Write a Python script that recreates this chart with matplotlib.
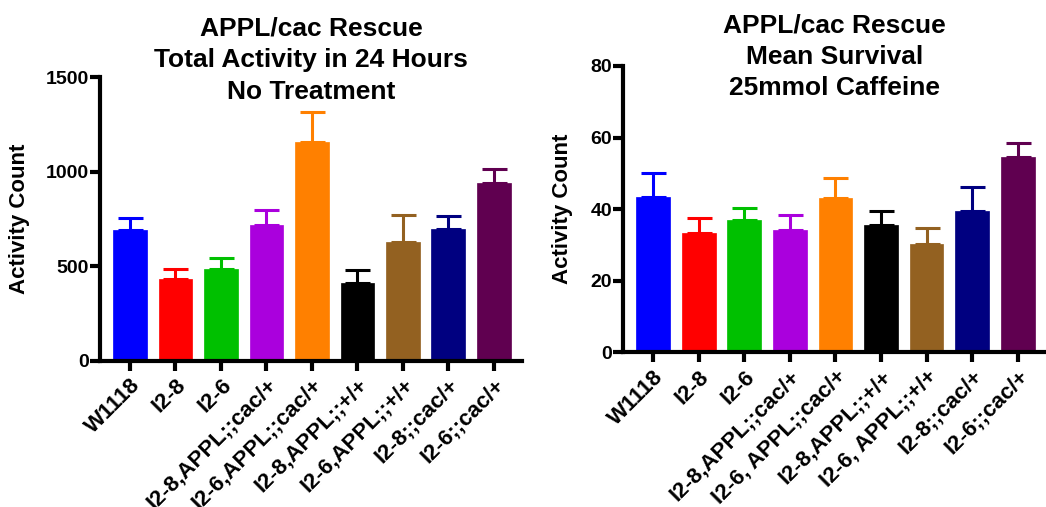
import matplotlib.pyplot as plt

plt.rcParams['font.family'] = ['Liberation Sans', 'DejaVu Sans']
plt.rcParams['font.weight'] = 'bold'

labels_left = ['W1118', 'I2-8', 'I2-6', 'I2-8,APPL;;cac/+', 'I2-6,APPL;;cac/+',
               'I2-8,APPL;;+/+', 'I2-6,APPL;;+/+', 'I2-8;;cac/+', 'I2-6;;cac/+']
labels_right = ['W1118', 'I2-8', 'I2-6', 'I2-8,APPL;;cac/+', 'I2-6, APPL;;cac/+',
                'I2-8,APPL;;+/+', 'I2-6, APPL;;+/+', 'I2-8;;cac/+', 'I2-6;;cac/+']
colors = ['#0000FF', '#FF0000', '#00C000', '#AA00DD', '#FF8000',
          '#000000', '#936121', '#000080', '#600050']

activity = [692, 435, 486, 720, 1158, 414, 630, 696, 940]
activity_err = [62, 51, 60, 76, 155, 67, 141, 71, 73]

survival = [43.5, 33.2, 37.1, 34.3, 43.0, 35.7, 30.3, 39.6, 54.7]
survival_err = [6.5, 4.2, 3.1, 4.0, 5.6, 3.9, 4.3, 6.7, 3.9]

fig = plt.figure(figsize=(10.46, 5.07), dpi=100)
ax1 = fig.add_axes([0.0956, 0.288, 0.4034, 0.560])
ax2 = fig.add_axes([0.5956, 0.305, 0.4044, 0.565])


def draw(ax, labels, vals, errs, ylim, yticks, title, title_y, ylab_x):
    x = list(range(len(vals)))
    for i in x:
        ax.errorbar(i, vals[i], yerr=[[0], [errs[i]]], fmt='none', ecolor=colors[i],
                    elinewidth=2.2, capsize=9, capthick=2.2, zorder=1)
    ax.bar(x, vals, width=0.74, color=colors, edgecolor=colors, linewidth=0.5, zorder=2)
    ax.set_xlim(-0.66, 8.62)
    ax.set_ylim(*ylim)
    ax.set_yticks(yticks)
    ax.set_xticks(x)
    ax.set_xticklabels(labels, rotation=45, ha='right', rotation_mode='anchor',
                       fontsize=16, fontweight='bold')
    for t in ax.get_yticklabels():
        t.set_fontsize(14)
        t.set_fontweight('bold')
    for s in ['top', 'right']:
        ax.spines[s].set_visible(False)
    for s in ['left', 'bottom']:
        ax.spines[s].set_linewidth(3)
    ax.tick_params(width=3, length=7)
    ax.tick_params(axis='y', pad=1)
    ax.tick_params(axis='x', pad=3)
    ax.set_ylabel('Activity Count', fontsize=16, fontweight='bold')
    ax.yaxis.set_label_coords(ylab_x, 0.5)
    ax.text(0.5, title_y, title, transform=ax.transAxes, ha='center', va='bottom',
            fontsize=19, fontweight='bold', linespacing=1.4)


draw(ax1, labels_left, activity, activity_err, (0, 1500), [0, 500, 1000, 1500],
     'APPL/cac Rescue\nTotal Activity in 24 Hours\nNo Treatment', 0.905, -0.166)
draw(ax2, labels_right, survival, survival_err, (0, 80), [0, 20, 40, 60, 80],
     'APPL/cac Rescue\nMean Survival\n25mmol Caffeine', 0.88, -0.118)

fig.savefig('out.png', dpi=100)
